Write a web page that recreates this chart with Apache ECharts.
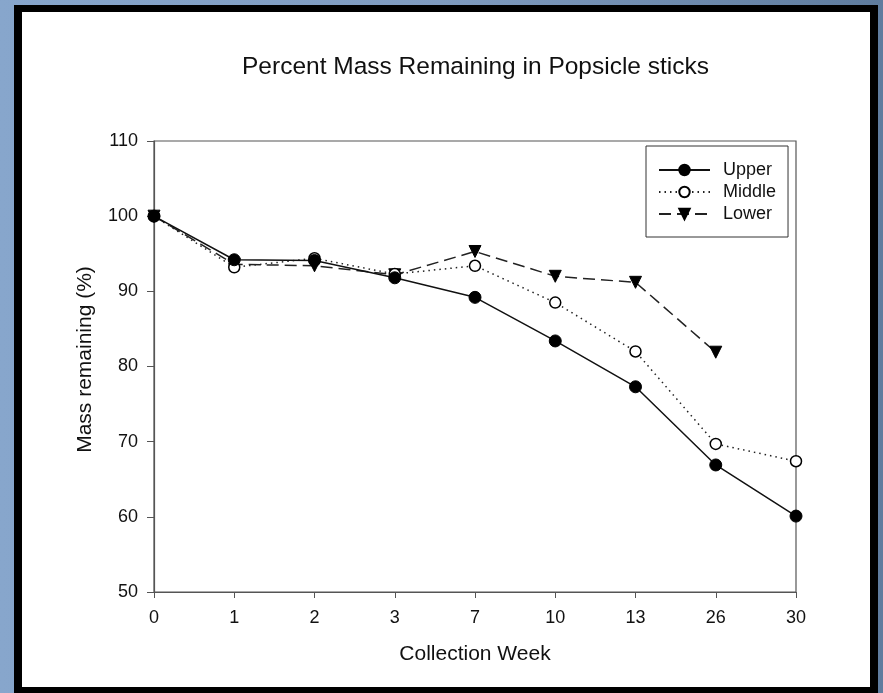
<!DOCTYPE html>
<html>
<head>
<meta charset="utf-8">
<script src="https://cdn.jsdelivr.net/npm/echarts@6/dist/echarts.min.js"></script>
<style>
  html, body { margin: 0; padding: 0; width: 883px; height: 693px; overflow: hidden; }
  body { background: linear-gradient(90deg, #87a6cc 0%, #7f9bbf 50%, #5f7c9e 100%); }
  #frame { position: absolute; left: 14px; top: 5px; width: 848px; height: 675px;
           border: 8px solid #000; border-top-width: 7px; background: #fff; }
  #chart { position: absolute; left: 0; top: 0; width: 883px; height: 693px; }
</style>
</head>
<body>
<div id="frame"></div>
<div id="chart"></div>
<script>
// Collection weeks (evenly spaced categories)
const weeks = ['0', '1', '2', '3', '7', '10', '13', '26', '30'];

// Percent mass remaining per stick position
const upper  = [100, 94.2, 94.1, 91.8, 89.2, 83.4, 77.3, 66.9, 60.1];
const middle = [100, 93.2, 94.4, 92.3, 93.4, 88.5, 82.0, 69.7, 67.4];
const lower  = [100, 93.6, 93.4, 92.2, 95.3, 92.0, 91.2, 81.9, null];

const yTicks = { min: 50, max: 110, step: 10 };

const font = '"Liberation Sans", Arial, sans-serif';
const axisGray = '#555';

const chart = echarts.init(document.getElementById('chart'), null, { renderer: 'canvas' });

chart.setOption({
  backgroundColor: 'transparent',
  animation: false,
  title: {
    text: 'Percent Mass Remaining in Popsicle sticks',
    left: 237,
    top: 50,
    textStyle: { fontFamily: font, fontSize: 24.5, fontWeight: 'normal', color: '#111' }
  },
  legend: {
    orient: 'vertical',
    left: 646,
    top: 146,
    padding: [15, 12, 14, 12],
    itemWidth: 51,
    itemHeight: 13,
    itemGap: 4,
    borderColor: '#333',
    borderWidth: 1,
    backgroundColor: '#fff',
    textStyle: { fontFamily: font, fontSize: 18, color: '#111', padding: [0, 0, 0, 8] },
    data: ['Upper', 'Middle', 'Lower']
  },
  grid: {
    left: 154, right: 87, top: 141, bottom: 101,
    show: true, borderColor: axisGray, borderWidth: 1.2, backgroundColor: 'transparent'
  },
  xAxis: {
    type: 'category',
    data: weeks,
    boundaryGap: false,
    name: 'Collection Week',
    nameLocation: 'middle',
    nameGap: 52,
    nameTextStyle: { fontFamily: font, fontSize: 21, color: '#111' },
    axisLine: { lineStyle: { color: axisGray, width: 1.2 } },
    axisTick: { length: 6, lineStyle: { color: axisGray } },
    axisLabel: { fontFamily: font, fontSize: 18, color: '#111', margin: 17 },
    splitLine: { show: false }
  },
  yAxis: {
    type: 'value',
    min: yTicks.min,
    max: yTicks.max,
    interval: yTicks.step,
    name: 'Mass remaining (%)',
    nameLocation: 'middle',
    nameGap: 58,
    nameRotate: 90,
    nameTextStyle: { fontFamily: font, fontSize: 21, color: '#111', padding: [0, 0, 0, 14] },
    axisLine: { show: true, lineStyle: { color: axisGray, width: 1.2 } },
    axisTick: { show: true, length: 7, lineStyle: { color: axisGray } },
    axisLabel: { fontFamily: font, fontSize: 18, color: '#111', margin: 16 },
    splitLine: { show: false }
  },
  series: [
    {
      name: 'Upper', type: 'line', data: upper,
      symbol: 'circle', symbolSize: 12,
      lineStyle: { color: '#111', width: 1.5, type: 'solid' },
      itemStyle: { color: '#000', borderColor: '#000', borderWidth: 1 },
      z: 4
    },
    {
      name: 'Middle', type: 'line', data: middle,
      symbol: 'circle', symbolSize: 11,
      lineStyle: { color: '#222', width: 1.5, type: [1.5, 4] },
      itemStyle: { color: '#fff', borderColor: '#000', borderWidth: 1.5 },
      z: 3
    },
    {
      name: 'Lower', type: 'line', data: lower,
      symbol: 'triangle', symbolSize: 12, symbolRotate: 180,
      lineStyle: { color: '#222', width: 1.5, type: [12, 6] },
      itemStyle: { color: '#000', borderColor: '#000', borderWidth: 1 },
      z: 2
    }
  ]
});
</script>
</body>
</html>
